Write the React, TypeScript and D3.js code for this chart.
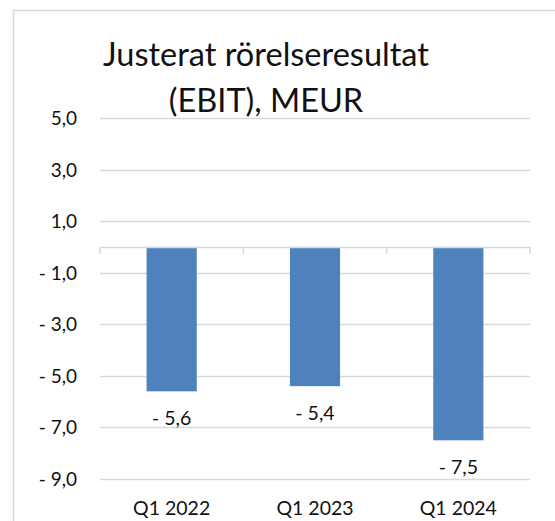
import React from "react";
import * as d3 from "d3";

const categories = ["Q1 2022", "Q1 2023", "Q1 2024"];
const values = [-5.6, -5.4, -7.5];
const yTicks = [5, 3, 1, -1, -3, -5, -7, -9];
const titleLines = ["Justerat rörelseresultat", "(EBIT), MEUR"];

const W = 555;
const H = 521;
const FONT = "Lato, 'Open Sans', sans-serif";
const TEXT = "#111";
const GRID = "#d9d9d9";
const BAR = "#4f81bd";

function fmt(v: number): string {
  const s = Math.abs(v).toFixed(1).replace(".", ",");
  return v < 0 ? "- " + s : s;
}

export default function App() {
  const y = d3.scaleLinear().domain([-9, 5]).range([479, 118]);
  const x = d3
    .scaleBand<string>()
    .domain(categories)
    .range([100, 530])
    .paddingInner(0.65)
    .paddingOuter(0.325);
  const step = x.step();
  const x0 = 100;
  const boundaries = d3.range(categories.length + 1).map((i) => x0 + i * step);

  return (
    <svg
      width={W}
      height={H}
      style={{ position: "absolute", left: 0, top: 0, background: "#fff" }}
      fontFamily={FONT}
    >
      <rect x={13.5} y={10.5} width={W + 20} height={H + 20} fill="#fff" stroke={GRID} strokeWidth={1.5} />
      {titleLines.map((t, i) => (
        <text key={t} x={266} y={66 + i * 46} textAnchor="middle" fontSize={32.5} fill={TEXT}>
          {t}
        </text>
      ))}
      {yTicks.map((t) => (
        <g key={t}>
          {t !== 0 && (
            <line x1={100} x2={530} y1={Math.round(y(t)) + 0.5} y2={Math.round(y(t)) + 0.5} stroke={GRID} strokeWidth={1.5} />
          )}
          <text x={77} y={y(t) + 7} textAnchor="end" fontSize={19} fill={TEXT}>
            {fmt(t)}
          </text>
        </g>
      ))}
      {categories.map((c, i) => {
        const v = values[i];
        const top = y(Math.max(0, v));
        const bottom = y(Math.min(0, v));
        return (
          <g key={c}>
            <rect x={x(c)} y={top} width={x.bandwidth()} height={bottom - top} fill={BAR} />
            <text
              x={(x(c) as number) + x.bandwidth() / 2}
              y={bottom + 33.5}
              textAnchor="middle"
              fontSize={19.5}
              fill={TEXT}
            >
              {fmt(v)}
            </text>
            <text
              x={(x(c) as number) + x.bandwidth() / 2}
              y={515}
              textAnchor="middle"
              fontSize={19.5}
              fill={TEXT}
            >
              {c}
            </text>
          </g>
        );
      })}
      <line x1={100} x2={530} y1={Math.round(y(0)) + 0.5} y2={Math.round(y(0)) + 0.5} stroke={GRID} strokeWidth={1.5} />
      {boundaries.map((b, i) => (
        <line key={i} x1={b} x2={b} y1={y(0)} y2={y(0) + 7} stroke={GRID} strokeWidth={1.5} />
      ))}
    </svg>
  );
}
